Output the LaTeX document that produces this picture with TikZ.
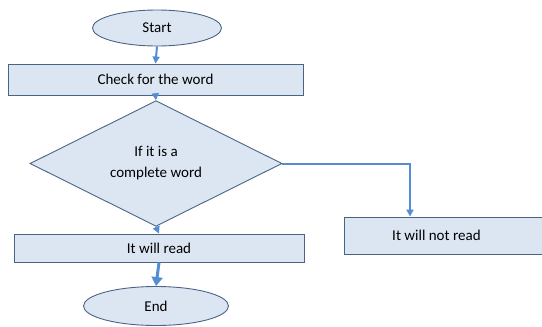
\documentclass[tikz,border=0pt]{standalone}
\usepackage{fontspec}
\setmainfont{Carlito}
\usepackage{tikz}
\usetikzlibrary{positioning,calc}
\usetikzlibrary{arrows.meta,shapes.geometric}
\definecolor{BoxFill}{RGB}{220,230,243}
\definecolor{BoxLine}{RGB}{75,100,132}
\definecolor{FlowBlue}{RGB}{83,141,210}
\tikzset{
  term/.style={ellipse,draw=BoxLine,fill=BoxFill,line width=0.9pt,inner sep=0pt,font=\fontsize{15}{21}\selectfont},
  procbox/.style={rectangle,draw=BoxLine,fill=BoxFill,line width=0.9pt,inner sep=0pt,font=\fontsize{15}{21}\selectfont},
  decide/.style={diamond,draw=BoxLine,fill=BoxFill,line width=0.9pt,inner sep=0pt,align=center,font=\fontsize{15}{21}\selectfont},
}
\tikzset{flow/.style={draw=FlowBlue,line width=2pt,-{Triangle[length=7pt,width=7pt]}}, bigflow/.style={draw=FlowBlue,line width=3pt,-{Triangle[length=9pt,width=11pt]}}}

\begin{document}
\begin{tikzpicture}[x=1pt,y=-1pt]
\useasboundingbox (0,0) rectangle (542,327);
\node[term,minimum width=129pt,minimum height=36pt] (start) at (157,28) {Start};
\node[procbox,minimum width=295pt,minimum height=31pt] (check) at (155.5,79.5) {Check for the word};
\node[decide,minimum width=252pt,minimum height=99pt] (cond) at (156,163.5) {If it is a\\complete word};
\node[procbox,minimum width=290pt,minimum height=28pt] (read) at (159,248) {It will read};
\node[procbox,minimum width=206pt,minimum height=37pt,anchor=west] (notread) at (344,235.5) {\hspace*{-22pt}It will not read};
\node[term,minimum width=145pt,minimum height=39pt] (end) at (156,306) {End};
\coordinate (bend) at (410,163.5);
\draw[flow] (start.south) -- (check.north);
\draw[flow] (check.south) -- (cond.north);
\draw[flow] (cond.south) -- (read.north);
\draw[bigflow] (read.south) -- (end.north);
\draw[flow] (cond.east) -- (bend) -- (bend |- notread.north);
\end{tikzpicture}
\end{document}
